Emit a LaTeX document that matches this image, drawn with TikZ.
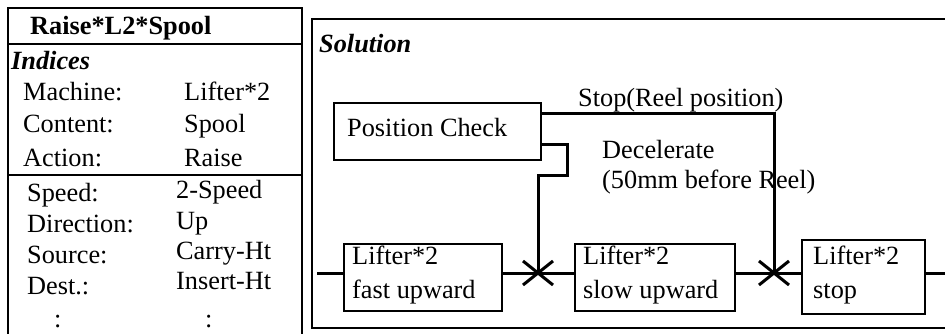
\documentclass[tikz,border=0pt]{standalone}
\usepackage{fontspec}
\setmainfont{Liberation Serif}
\usetikzlibrary{calc}
\begin{document}
\begin{tikzpicture}[x=1pt,y=-1pt,
  txt/.style={anchor=base west,inner sep=0pt,font=\fontsize{26.3}{30}\selectfont},
  boldtxt/.style={txt,font=\fontsize{26.3}{30}\selectfont\bfseries},
  headtxt/.style={txt,font=\fontsize{26.3}{30}\selectfont\bfseries\itshape},
  panel/.style={draw,line width=2.4pt},
  stepbox/.style={draw,line width=2pt,anchor=north west,inner sep=0pt},
  wire/.style={line width=3pt},
  crossmark/.style={line width=3pt}]
\useasboundingbox (0,0) rectangle (945,334);
\clip (0,0) rectangle (945,334);

% ---- index panel ----
\draw[panel] (8,345) -- (8,8) -- (302,8) -- (302,345);
\draw[panel] (8,44) -- (302,44);
\draw[panel] (8,175) -- (302,175);
\node[boldtxt] (title) at (30,35) {Raise*L2*Spool};
\node[headtxt] (idx) at (11,70) {Indices};
\node[txt] (k1) at (23,101) {Machine:};
\node[txt] (v1) at (184,101) {Lifter*2};
\node[txt] (k2) at (23,133) {Content:};
\node[txt] (v2) at (184,133) {Spool};
\node[txt] (k3) at (23,166) {Action:};
\node[txt] (v3) at (184,166) {Raise};
\node[txt] (k4) at (27,201) {Speed:};
\node[txt] (v4) at (176,198) {2-Speed};
\node[txt] (k5) at (27,232) {Direction:};
\node[txt] (v5) at (176,229) {Up};
\node[txt] (k6) at (27,263) {Source:};
\node[txt] (v6) at (176,259) {Carry-Ht};
\node[txt] (k7) at (27,294) {Dest.:};
\node[txt] (v7) at (176,289) {Insert-Ht};
\node[txt] (k8) at (54,327) {:};
\node[txt] (v8) at (205,327) {:};

% ---- solution panel ----
\draw[panel] (312,19) rectangle (960,328);
\node[headtxt] (sol) at (319,53) {Solution};

% check box and the three lifter states
\node[stepbox,minimum width=207pt,minimum height=57pt] (pc) at (333,102) {};
\node[txt] (pct) at (347,137) {Position Check};
\node[stepbox,minimum width=158pt,minimum height=67pt] (b1) at (343,243) {};
\node[stepbox,minimum width=160pt,minimum height=67pt] (b2) at (574,243) {};
\node[stepbox,minimum width=123pt,minimum height=74pt] (b3) at (801,239) {};
\node[txt] (b1a) at (352,264) {Lifter*2};
\node[txt] (b1b) at (352,298) {fast upward};
\node[txt] (b2a) at (583,264) {Lifter*2};
\node[txt] (b2b) at (583,298) {slow upward};
\node[txt] (b3a) at (813,264) {Lifter*2};
\node[txt] (b3b) at (813,298) {stop};

% transitions on the main line
\coordinate (in) at (317,273);
\coordinate (out) at (945,273);
\coordinate (x1) at (538,273);
\coordinate (x2) at (774,273);
\draw[wire] (in) -- (b1.west |- in);
\draw[wire] (b1.east |- x1) -- (b2.west |- x1);
\draw[wire] (b2.east |- x2) -- (b3.west |- x2);
\draw[wire] (b3.east |- out) -- (out);
\foreach \c in {x1,x2}{
  \draw[crossmark] ($(\c)+(-15,-12)$) -- ($(\c)+(15,12)$);
  \draw[crossmark] ($(\c)+(-15,12)$) -- ($(\c)+(15,-12)$);
}

% condition signals from the position check
\draw[wire] (pc.east |- 0,114) -| (x2);
\draw[wire] (pc.east |- 0,145) -- (567,145) -- (567,175) -- (538,175) -- (x1);
\node[txt] (stoplbl) at (578,107) {Stop(Reel position)};
\node[txt] (declbl) at (602,158) {Decelerate};
\node[txt] (declbl2) at (602,189) {(50mm before Reel)};
\end{tikzpicture}
\end{document}
